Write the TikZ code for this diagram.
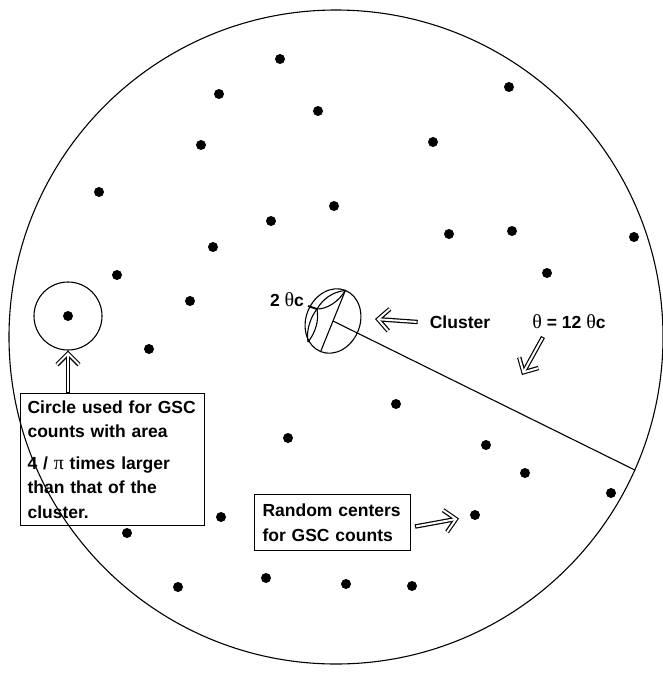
\documentclass[tikz,border=0pt]{standalone}
\usepackage{fontspec}
\setmainfont{Liberation Sans}
\newfontfamily\thf{Liberation Serif}
\usetikzlibrary{arrows.meta,shapes.geometric}
\newcommand{\thsym}{{\thf\mdseries\fontsize{20}{20}\selectfont θ}}
\begin{document}
\begin{tikzpicture}[x=1pt,y=-1pt,
  lab/.style={font=\fontsize{17.5}{24.4}\selectfont\bfseries, inner sep=0pt},
  dot/.style={circle, fill=black, inner sep=0pt, minimum size=10pt},
  boxed/.style={draw, line width=1.1pt, inner ysep=0pt, inner xsep=7pt, anchor=north west, align=left,
     font=\fontsize{17.5}{24.4}\selectfont\bfseries},
  arr/.style={line width=4.4pt, -{Straight Barb[length=11pt,width=22pt]},
     postaction={draw=white, line width=2pt, shorten >=1.6pt, shorten <=1.1pt, -{Straight Barb[length=11pt,width=22pt]}}},
  thin line/.style={line width=1.1pt}]
\useasboundingbox (0,0) rectangle (663,673);
\fill[white] (0,0) rectangle (663,673);
% big circle
\node[circle, draw, thin line, minimum size=654pt, inner sep=0pt] (bigc) at (336,337) {};
% dots
\foreach \i/\x/\y in {1/280/59, 2/219/94, 3/318/111, 4/509/87, 5/201/145, 6/433/142, 7/99/192,
  8/334/206, 9/271/221, 10/213/247, 11/449/234, 12/512/231, 13/634/237, 14/117/275, 15/547/273,
  16/190/301, 17/149/349, 18/396/404, 19/288/438, 20/486/445, 21/525/473, 22/611/493,
  23/221/517, 24/127/533, 25/475/515, 26/178/587, 27/266/578, 28/346/584, 29/412/586}
  \node[dot] (d\i) at (\x,\y) {};
% small circle
\node[circle, draw, thin line, minimum size=68pt, inner sep=0pt] (sc) at (68,316) {};
\node[dot] (scd) at (68,316) {};
% cluster ellipse
\node[ellipse, draw, thin line, minimum width=66pt, minimum height=54pt, inner sep=0pt, rotate=68] (cl) at (333,321) {};
\coordinate (dtop) at (345.4,290.4);
\coordinate (dbot) at (320.6,351.6);
\coordinate (lm) at (317,309);
\coordinate (lb) at (308,342);
\draw[thin line] (dtop) -- (dbot);
\draw[thin line] (dtop) .. controls (332,292) and (323,299) .. (lm);
\draw[thin line] (dtop) .. controls (339,301) and (328,309) .. (lm);
\draw[thin line] (lm) .. controls (319,320) and (316,332) .. (lb);
\draw[thin line] (lm) .. controls (310,318) and (306,331) .. (lb);
\draw[line width=1.8pt] (lm) -- +(-9,-3);
% radius line
\draw[thin line] (cl.center) -- (bigc.-24.9);
% labels
\node[lab] (two) at (287,300) {2 \thsym c};
\node[lab] (clu) at (460,322) {Cluster};
\node[lab] (th) at (569,322) {\thsym{} = 12 \thsym c};
% boxes
\node[boxed, text width=170pt, minimum height=132pt] (box1) at (20,393)
  {Circle used for GSC\\counts with area\\[7pt]4 / {\thf\mdseries\fontsize{20}{20}\selectfont π} times larger\\than that of the\\cluster.};
\node[boxed, inner xsep=8pt, text width=140pt, minimum height=56pt] (box2) at (254,494)
  {Random centers\\for GSC counts};
% arrows
\coordinate (cltip) at (375,319);
\coordinate (thtail) at (543,337);
\coordinate (thtip) at (522,375);
\coordinate (rtip) at (459,518.5);
\draw[arr] ([xshift=-12pt]clu.west) -- (cltip);
\draw[arr] (thtail) -- (thtip);
\draw[arr] ([shift={(4,4)}]box2.east) -- (rtip);
\draw[arr] (box1.north -| sc.south) -- (sc.south);
\end{tikzpicture}
\end{document}
